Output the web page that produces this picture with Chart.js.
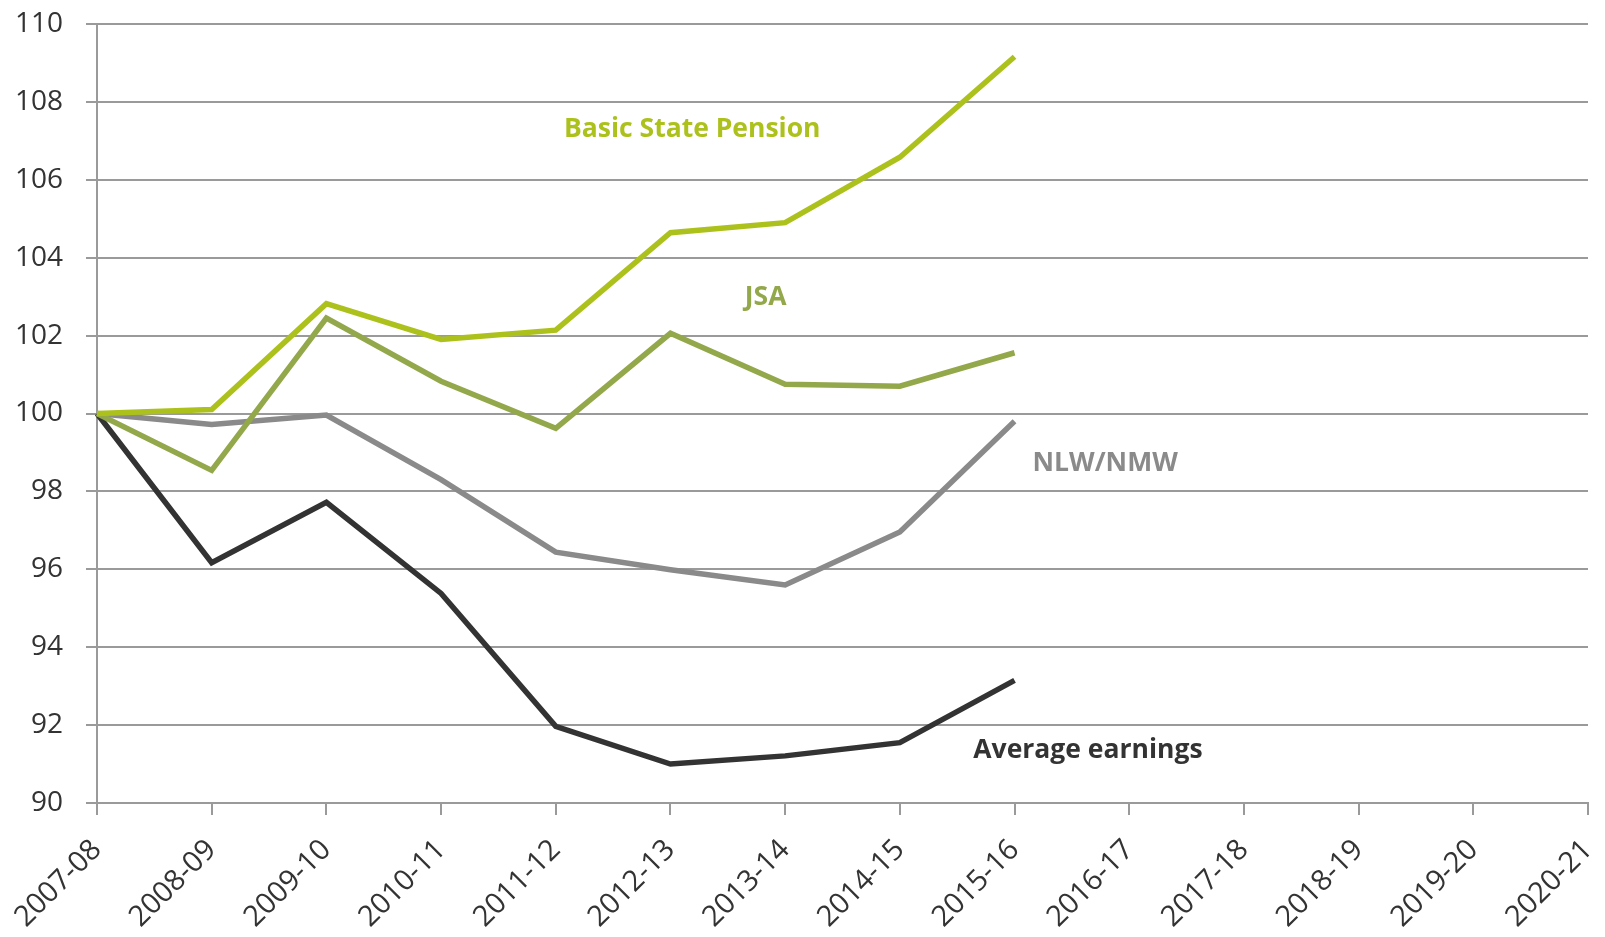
<!DOCTYPE html>
<html>
<head>
<meta charset="utf-8">
<script src="https://cdn.jsdelivr.net/npm/chart.js@4.4.1/dist/chart.umd.min.js"></script>
<style>
  html, body { margin: 0; padding: 0; background: #fff; }
  #wrap { width: 1605px; height: 937px; position: relative; }
</style>
</head>
<body>
<div id="wrap"><canvas id="chart"></canvas></div>
<script>
  // catégories (années fiscales)
  const years = ['2007-08','2008-09','2009-10','2010-11','2011-12','2012-13','2013-14',
                 '2014-15','2015-16','2016-17','2017-18','2018-19','2019-20','2020-21'];

  // séries (indice 2007-08 = 100)
  const basicStatePension = [100, 100.1, 102.82, 101.9, 102.14, 104.64, 104.9, 106.58, 109.16];
  const jsa              = [100, 98.54, 102.45, 100.83, 99.62, 102.06, 100.75, 100.7, 101.56];
  const nlwNmw           = [100, 99.72, 99.96, 98.3, 96.44, 95.99, 95.6, 96.96, 99.8];
  const avgEarnings      = [100, 96.17, 97.72, 95.38, 91.97, 91.0, 91.21, 91.55, 93.15];

  const yTicks = [90, 92, 94, 96, 98, 100, 102, 104, 106, 108, 110];

  // étiquettes posées dans le graphique (index catégorie, valeur)
  const labels = [
    { text: 'Basic State Pension', x: 5.19, y: 107.29, color: '#adc11d' },
    { text: 'JSA',                 x: 5.83, y: 102.98, color: '#93a84a' },
    { text: 'NLW/NMW',             x: 8.79, y: 98.72,  color: '#8a8a8a' },
    { text: 'Average earnings',    x: 8.64, y: 91.36,  color: '#333333' }
  ];

  const FONT = '"Open Sans", "Noto Sans", sans-serif';

  const labelPlugin = {
    id: 'seriesLabels',
    afterDatasetsDraw(chart) {
      const c = chart.ctx;
      const xs = chart.scales.x, ys = chart.scales.y;
      c.save();
      c.font = 'bold 26.5px ' + FONT;
      c.textAlign = 'center';
      c.textBaseline = 'middle';
      labels.forEach(l => {
        const px = xs.getPixelForValue(0) + (xs.getPixelForValue(1) - xs.getPixelForValue(0)) * l.x;
        c.fillStyle = l.color;
        c.fillText(l.text, px, ys.getPixelForValue(l.y));
      });
      c.restore();
    }
  };

  function ds(label, data, color) {
    return {
      label, data,
      borderColor: color,
      backgroundColor: color,
      borderWidth: 5.5,
      pointRadius: 0,
      tension: 0,
      fill: false
    };
  }

  new Chart(document.getElementById('chart'), {
    type: 'line',
    data: {
      labels: years,
      datasets: [
        ds('Basic State Pension', basicStatePension, '#adc11d'),
        ds('JSA', jsa, '#93a84a'),
        ds('NLW/NMW', nlwNmw, '#8a8a8a'),
        ds('Average earnings', avgEarnings, '#333333')
      ]
    },
    options: {
      responsive: true,
      maintainAspectRatio: false,
      animation: false,
      layout: { padding: { top: 24, right: 17, left: 0, bottom: 0 } },
      plugins: { legend: { display: false }, tooltip: { enabled: false } },
      scales: {
        x: {
          offset: false,
          grid: { drawOnChartArea: false, drawTicks: true, tickLength: 12, color: '#9a9a9a', lineWidth: 2 },
          border: { display: true, color: '#9a9a9a', width: 2 },
          ticks: {
            autoSkip: false, minRotation: 45, maxRotation: 45, padding: 18,
            color: '#333333', font: { family: FONT, size: 29 }
          },
          afterFit(scale) { scale.height = 134; scale.paddingLeft = 0; scale.paddingRight = 0; }
        },
        y: {
          min: 90, max: 110,
          afterBuildTicks(scale) { scale.ticks = yTicks.map(v => ({ value: v })); },
          grid: { color: '#9a9a9a', lineWidth: 2, tickLength: 11 },
          border: { display: true, color: '#9a9a9a', width: 2 },
          ticks: { padding: 23, color: '#333333', font: { family: FONT, size: 28 } },
          afterFit(scale) { scale.width = 97; scale.paddingTop = 0; scale.paddingBottom = 0; }
        }
      }
    },
    plugins: [labelPlugin]
  });
</script>
</body>
</html>
